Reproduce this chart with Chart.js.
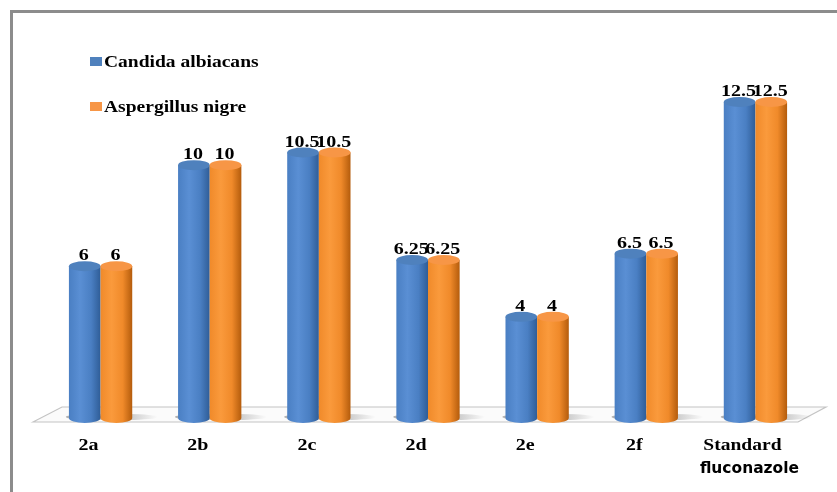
<!DOCTYPE html>
<html>
<head>
<meta charset="utf-8">
<script src="https://cdn.jsdelivr.net/npm/chart.js@4.4.1/dist/chart.umd.min.js"></script>
<style>
  html, body { margin: 0; padding: 0; background: #fff; }
  #wrap { width: 837px; height: 492px; position: relative; }
</style>
</head>
<body>
<div id="wrap"><canvas id="mic"></canvas></div>
<script>
const categories = ['2a', '2b', '2c', '2d', '2e', '2f', ['Standard', 'fluconazole']];
const candida = [6, 10, 10.5, 6.25, 4, 6.5, 12.5];
const aspergillus = [6, 10, 10.5, 6.25, 4, 6.5, 12.5];
const seriesNames = ['Candida albiacans', 'Aspergillus nigre'];

// colours for the cylinders: [dark edge, light middle, mid, top cap]
const shades = [
    ['#2f5d97', '#5a8fd4', '#4a7fc3', '#4f81bd'],
    ['#b45c0c', '#fa9a3c', '#f08a2a', '#f79646']
];

const serif = '"Liberation Serif", "Times New Roman", serif';

// the source picture is stretched sideways, so text is drawn wider than tall
function wideText(ctx, txt, x, y, sx) {
    ctx.save();
    ctx.translate(x, y);
    ctx.scale(sx, 1);
    ctx.fillText(txt, 0, 0);
    ctx.restore();
}

const decor = {
    id: 'decor',
    beforeDatasetsDraw(chart) {
        const ctx = chart.ctx;
        const y0 = chart.scales.y.getPixelForValue(0);
        // outer frame
        ctx.save();
        ctx.strokeStyle = '#8c8c8c';
        ctx.lineWidth = 3;
        ctx.beginPath();
        ctx.moveTo(11.5, 492);
        ctx.lineTo(11.5, 11.5);
        ctx.lineTo(837, 11.5);
        ctx.stroke();
        // floor
        ctx.beginPath();
        ctx.moveTo(33, y0 + 4);
        ctx.lineTo(62, y0 - 11);
        ctx.lineTo(826, y0 - 11);
        ctx.lineTo(798, y0 + 4);
        ctx.closePath();
        ctx.fillStyle = '#fbfbfb';
        ctx.fill();
        ctx.strokeStyle = '#c4c4c4';
        ctx.lineWidth = 1.2;
        ctx.stroke();
        ctx.restore();
    },
    afterDatasetsDraw(chart) {
        const ctx = chart.ctx;
        ctx.save();
        // shadows first
        chart.data.datasets.forEach((ds, di) => {
            chart.getDatasetMeta(di).data.forEach(el => {
                const w = el.width;
                const g = ctx.createLinearGradient(el.x, 0, el.x + w * 1.3, 0);
                g.addColorStop(0, 'rgba(90,90,90,0.45)');
                g.addColorStop(1, 'rgba(90,90,90,0)');
                ctx.fillStyle = g;
                ctx.beginPath();
                ctx.ellipse(el.x + w * 0.35, el.base - 1, w * 0.95, 3, 0, 0, Math.PI * 2);
                ctx.fill();
            });
        });
        chart.data.datasets.forEach((ds, di) => {
            const c = shades[di];
            chart.getDatasetMeta(di).data.forEach((el, i) => {
                const w = el.width, l = el.x - w / 2, r = el.x + w / 2, ry = 5;
                const g = ctx.createLinearGradient(l, 0, r, 0);
                g.addColorStop(0, c[2]);
                g.addColorStop(0.35, c[1]);
                g.addColorStop(0.7, c[2]);
                g.addColorStop(1, c[0]);
                ctx.fillStyle = g;
                ctx.beginPath();
                ctx.moveTo(l, el.y);
                ctx.lineTo(l, el.base);
                ctx.ellipse(el.x, el.base, w / 2, ry, 0, Math.PI, 0, true);
                ctx.lineTo(r, el.y);
                ctx.closePath();
                ctx.fill();
                // top cap
                ctx.fillStyle = c[3];
                ctx.beginPath();
                ctx.ellipse(el.x, el.y, w / 2, ry, 0, 0, Math.PI * 2);
                ctx.fill();
                // value label
                ctx.fillStyle = '#000';
                ctx.font = 'bold 16px ' + serif;
                ctx.textAlign = 'center';
                ctx.textBaseline = 'alphabetic';
                wideText(ctx, String(ds.data[i]), el.x - 1, el.y - 6, 1.25);
            });
        });
        // category labels
        const xs = chart.scales.x;
        ctx.fillStyle = '#000';
        ctx.textAlign = 'center';
        ctx.textBaseline = 'middle';
        categories.forEach((lab, i) => {
            const x = xs.getPixelForValue(i) - 12;
            if (Array.isArray(lab)) {
                ctx.font = 'bold 16px ' + serif;
                wideText(ctx, lab[0], x - 1, 446, 1.22);
                ctx.font = 'bold 15px "DejaVu Sans", sans-serif';
                wideText(ctx, lab[1], x + 6, 469, 1.03);
            } else {
                ctx.font = 'bold 16px ' + serif;
                wideText(ctx, lab, x, 446, 1.25);
            }
        });
        // legend
        ctx.textAlign = 'left';
        ctx.textBaseline = 'alphabetic';
        ctx.font = 'bold 16px ' + serif;
        seriesNames.forEach((name, i) => {
            const y = 57 + i * 45;
            ctx.fillStyle = shades[i][3];
            ctx.fillRect(90, y, 12, 9);
            ctx.fillStyle = '#000';
            wideText(ctx, name, 104, y + 10, 1.22);
        });
        ctx.restore();
    }
};

new Chart(document.getElementById('mic'), {
    type: 'bar',
    data: {
        labels: categories,
        datasets: [
            { label: seriesNames[0], data: candida, backgroundColor: 'rgba(0,0,0,0)' },
            { label: seriesNames[1], data: aspergillus, backgroundColor: 'rgba(0,0,0,0)' }
        ]
    },
    options: {
        responsive: true,
        maintainAspectRatio: false,
        animation: false,
        layout: { padding: { left: 46, right: 27, top: 64, bottom: 74 } },
        datasets: { bar: { categoryPercentage: 0.58, barPercentage: 1 } },
        plugins: {
            legend: { display: false },
            tooltip: { enabled: false }
        },
        scales: {
            x: { display: false },
            y: { display: false, min: 0, max: 14 }
        }
    },
    plugins: [decor]
});
</script>
</body>
</html>
